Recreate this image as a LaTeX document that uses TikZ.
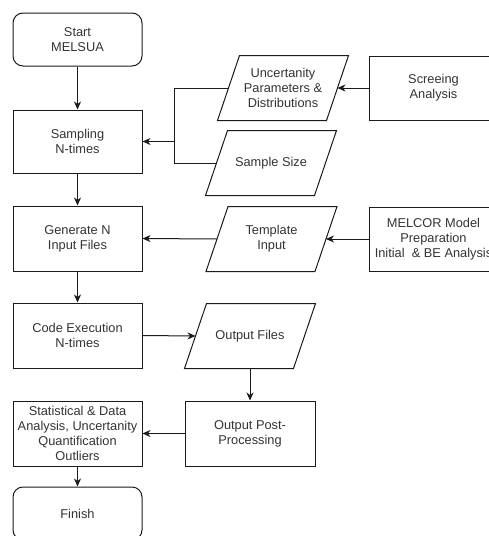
\documentclass[tikz,border=0pt]{standalone}
\usepackage{fontspec}
\setmainfont{Liberation Sans}
\usetikzlibrary{arrows.meta}
\definecolor{txt}{HTML}{333333}
\definecolor{ln}{HTML}{1A1A1A}
\tikzset{
  base/.style={draw=ln, line width=1pt, inner sep=0pt, align=center, text=txt,
    font=\fontsize{12.8}{15}\selectfont},
  procbox/.style={base, rectangle, minimum width=129pt, minimum height=65pt},
  termbox/.style={base, rectangle, rounded corners=10pt, minimum width=129pt, minimum height=53pt},
  databox/.style={base, draw=none, rectangle, minimum width=108pt, minimum height=64pt},
  conn/.style={draw=ln, line width=1pt},
  flow/.style={conn, -{Stealth[length=8pt,width=7pt,inset=2.5pt]}},
}
% slanted outline for an input/output node
\newcommand{\dataoutline}[2]{%
  \draw[conn, line join=miter]
    ([xshift=#2/2]#1.north west) -- ([xshift=#2/2]#1.north east) --
    ([xshift=-#2/2]#1.south east) -- ([xshift=-#2/2]#1.south west) -- cycle;}
\begin{document}
\begin{tikzpicture}[x=1pt, y=-1pt]
  \useasboundingbox (0,0) rectangle (489,536);
  \clip (0,0) rectangle (489,536);

  % main column
  \node[termbox] (start) at (77.5,39.5) {Start\\MELSUA};
  \node[procbox, minimum height=63pt] (sampling) at (77.5,141.5) {Sampling\\N-times};
  \node[procbox] (generate) at (77.5,238.5) {Generate N\\Input Files};
  \node[procbox] (code) at (77.5,335.5) {Code Execution\\N-times};
  \node[procbox] (stats) at (77.5,433.5) {Statistical \& Data\\Analysis, Uncertanity\\Quantification\\Outliers};
  \node[termbox] (finish) at (77.5,513.5) {Finish};

  % inputs and outputs
  \node[databox] (unc) at (283,88) {Uncertanity\\Parameters \&\\Distributions};
  \dataoutline{unc}{22pt}
  \node[databox] (size) at (271,163) {Sample Size};
  \dataoutline{size}{22pt}
  \node[databox] (template) at (271.5,239) {Template\\Input};
  \dataoutline{template}{22pt}
  \node[databox] (outfiles) at (250,336) {Output Files};
  \dataoutline{outfiles}{22pt}

  % side processes
  \node[procbox, minimum height=64pt] (screen) at (433.5,88) {Screeing\\Analysis};
  \node[procbox, minimum height=64pt] (melcor) at (433.5,239) {MELCOR Model\\Preparation\\Initial\ \ \& BE Analysis};
  \node[procbox, minimum width=130pt] (post) at (250,433.5) {Output Post-\\Processing};

  % connectors
  \coordinate (merge) at (174,141.5);
  \draw[flow] (start) -- (sampling);
  \draw[conn] (unc.west) -| (merge);
  \draw[conn] (size.west) -| (merge);
  \draw[flow] (merge) -- (sampling.east);
  \draw[flow] (screen.west) -- (unc.east);
  \draw[flow] (sampling) -- (generate);
  \draw[flow] (melcor.west) -- (template.east);
  \draw[flow] (template.west) -- (generate.east);
  \draw[flow] (generate) -- (code);
  \draw[flow] (code.east) -- (outfiles.west);
  \draw[flow] (outfiles.south) -- (post.north);
  \draw[flow] (post.west) -- (stats.east);
  \draw[flow] (stats) -- (finish);
\end{tikzpicture}
\end{document}
